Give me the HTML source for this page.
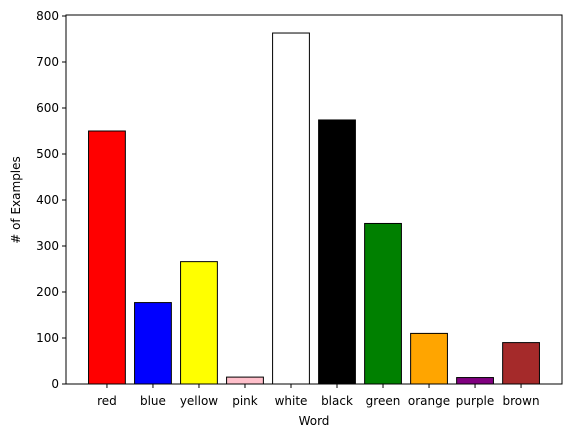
<!DOCTYPE html>
<html><head><meta charset="utf-8"><style>
body{margin:0;background:#fff;}
svg{display:block;font-family:"DejaVu Sans","Liberation Sans",sans-serif;}
</style></head><body>
<svg id="chart" width="571" height="437">
<rect x="0" y="0" width="571" height="437" fill="#fff"/>
<g id="bars"></g>
<g id="yaxis"></g>
<g id="xaxis"></g>
<rect x="66" y="15" width="496" height="369" fill="none" stroke="#000" stroke-width="1"/>
<text x="314" y="425" font-size="12" text-anchor="middle">Word</text>
<text transform="translate(20,200) rotate(-90)" font-size="12" text-anchor="middle"># of Examples</text>
</svg>
<script>
const categories=["red","blue","yellow","pink","white","black","green","orange","purple","brown"];
const values=[550,177,266,15,763,574,349,110,14,90];
const barColors=["red","blue","yellow","pink","white","black","green","orange","purple","brown"];
const yTicks=[0,100,200,300,400,500,600,700,800];
const NS="http://www.w3.org/2000/svg";
const L=66,R=562,T=15,B=384;
const xmin=-0.89,xmax=categories.length-1+0.89;
function xs(i){return L+(i-xmin)/(xmax-xmin)*(R-L);}
function ys(v){return B-v/800*(B-T-1);}
const step=xs(1)-xs(0),bw=step*0.8;
const gb=document.getElementById('bars'),gy=document.getElementById('yaxis'),gx=document.getElementById('xaxis');
function mk(t,a,p){const e=document.createElementNS(NS,t);for(const k in a)e.setAttribute(k,a[k]);p.appendChild(e);return e;}
categories.forEach((c,i)=>{
 const r=mk('rect',{x:xs(i)-bw/2,y:ys(values[i]),width:bw,height:B-ys(values[i]),fill:barColors[i],stroke:'#000','stroke-width':1},gb);
 
 
 const tk=mk('line',{x1:xs(i),x2:xs(i),y1:B,y2:B+4,stroke:'#000'},gx);
 
 
 const t=mk('text',{x:xs(i),y:B+21,'font-size':12,'text-anchor':'middle'},gx);
 t.textContent=c;
 
 
});
yTicks.forEach(v=>{
 const tk=mk('line',{x1:L-4,x2:L,y1:ys(v),y2:ys(v),stroke:'#000'},gy);
 
 
 const t=mk('text',{x:L-7,y:ys(v)+4,'font-size':12,'text-anchor':'end'},gy);
 t.textContent=v;
 
 
});
</script>
</body></html>
